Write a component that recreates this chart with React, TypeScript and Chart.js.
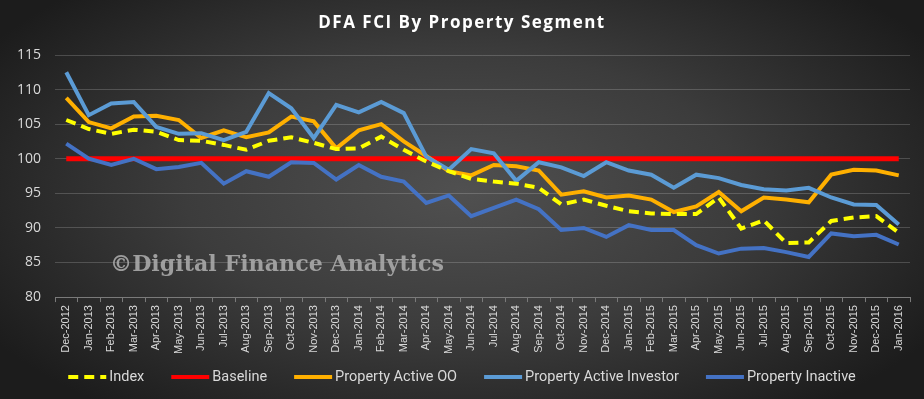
import React, { useEffect, useRef } from "react";
import { Chart, registerables } from "chart.js";

Chart.register(...registerables);

const categories = [
  "Dec-2012","Jan-2013","Feb-2013","Mar-2013","Apr-2013","May-2013","Jun-2013","Jul-2013","Aug-2013","Sep-2013","Oct-2013","Nov-2013",
  "Dec-2013","Jan-2014","Feb-2014","Mar-2014","Apr-2014","May-2014","Jun-2014","Jul-2014","Aug-2014","Sep-2014","Oct-2014","Nov-2014",
  "Dec-2014","Jan-2015","Feb-2015","Mar-2015","Apr-2015","May-2015","Jun-2015","Jul-2015","Aug-2015","Sep-2015","Oct-2015","Nov-2015",
  "Dec-2015","Jan-2016",
];

const indexValues = [
  105.6,104.3,103.6,104.2,103.9,102.7,102.6,102.0,101.3,102.6,103.1,102.3,
  101.4,101.5,103.2,101.3,99.6,98.2,97.1,96.7,96.4,95.8,93.4,94.1,
  93.2,92.4,92.1,92.0,92.0,94.4,89.9,91.1,87.8,87.9,91.0,91.5,
  91.7,89.3,
];

const baselineValues = categories.map(() => 100);

const activeOOValues = [
  108.8,105.3,104.4,106.1,106.2,105.6,103.0,104.1,103.1,103.8,106.1,105.4,
  101.5,104.1,105.0,102.5,100.4,98.2,97.6,99.1,98.9,98.3,94.8,95.3,
  94.4,94.7,94.1,92.3,93.1,95.2,92.4,94.4,94.1,93.7,97.7,98.4,
  98.3,97.6,
];

const activeInvestorValues = [
  112.5,106.3,108.0,108.2,104.6,103.6,103.7,102.7,103.9,109.5,107.3,103.0,
  107.8,106.7,108.2,106.6,100.3,98.4,101.4,100.8,96.8,99.5,98.75,97.5,
  99.5,98.3,97.7,95.8,97.7,97.2,96.2,95.6,95.4,95.8,94.4,93.4,
  93.3,90.5,
];

const inactiveValues = [
  102.2,100.0,99.1,100.0,98.5,98.8,99.4,96.4,98.2,97.4,99.5,99.4,
  97.0,99.1,97.4,96.7,93.6,94.7,91.7,92.9,94.1,92.7,89.7,90.0,
  88.7,90.4,89.7,89.7,87.5,86.3,87.0,87.1,86.5,85.8,89.2,88.8,
  89.0,87.6,
];

const yTicks = [80, 85, 90, 95, 100, 105, 110, 115];

const titleText = "DFA FCI By Property Segment";
const watermarkText = "©Digital Finance Analytics";

const watermarkPlugin = {
  id: "watermark",
  beforeDatasetsDraw(chart: any) {
    const ctx = chart.ctx;
    ctx.save();
    ctx.font = "bold 23px 'DejaVu Serif'";
    ctx.fillStyle = "rgba(170,170,170,0.9)";
    ctx.textBaseline = "middle";
    ctx.textAlign = "left";
    ctx.fillText(watermarkText, 110, 265, 334);
    ctx.restore();
  },
};

const titlePlugin = {
  id: "customTitle",
  afterDraw(chart: any) {
    const ctx = chart.ctx;
    ctx.save();
    ctx.font = "bold 17px 'Open Sans'";
    (ctx as any).letterSpacing = "1.5px";
    ctx.fillStyle = "#ffffff";
    ctx.textBaseline = "middle";
    ctx.textAlign = "center";
    ctx.fillText(titleText, 462, 23);
    ctx.restore();
  },
};

const legendPlugin = {
  id: "customLegend",
  afterDraw(chart: any) {
    const ctx = chart.ctx;
    const ds = chart.data.datasets;
    const markerW = 38;
    const markerGap = 3;
    const itemGap = 27;
    const y = 377;
    ctx.save();
    ctx.font = "14.5px Roboto";
    ctx.textBaseline = "middle";
    ctx.textAlign = "left";
    const widths = ds.map((d: any) => ctx.measureText(d.label).width);
    let total = 0;
    widths.forEach((w: number, i: number) => {
      total += markerW + markerGap + w + (i < ds.length - 1 ? itemGap : 0);
    });
    let x = 462 - total / 2;
    ds.forEach((d: any, i: number) => {
      ctx.save();
      ctx.strokeStyle = d.borderColor;
      ctx.lineWidth = 4;
      ctx.setLineDash(d.borderDash || []);
      ctx.beginPath();
      ctx.moveTo(x, y);
      ctx.lineTo(x + markerW, y);
      ctx.stroke();
      ctx.restore();
      ctx.fillStyle = "#d9d9d9";
      ctx.fillText(d.label, x + markerW + markerGap, y);
      x += markerW + markerGap + widths[i] + itemGap;
    });
    ctx.restore();
  },
};

export default function App() {
  const ref = useRef<HTMLCanvasElement>(null);

  useEffect(() => {
    document.body.style.margin = "0";
    const canvas = ref.current;
    if (!canvas) return;
    const chart = new Chart(canvas, {
      type: "line",
      data: {
        labels: categories,
        datasets: [
          {
            label: "Index",
            data: indexValues,
            borderColor: "#FFFF00",
            backgroundColor: "#FFFF00",
            borderWidth: 4,
            borderDash: [10, 6],
            pointRadius: 0,
            tension: 0,
            order: 0,
          },
          {
            label: "Baseline",
            data: baselineValues,
            borderColor: "#FF0000",
            backgroundColor: "#FF0000",
            borderWidth: 5,
            pointRadius: 0,
            order: 4,
          },
          {
            label: "Property Active OO",
            data: activeOOValues,
            borderColor: "#FFB000",
            backgroundColor: "#FFB000",
            borderWidth: 4,
            pointRadius: 0,
            order: 3,
          },
          {
            label: "Property Active Investor",
            data: activeInvestorValues,
            borderColor: "#5B9BD5",
            backgroundColor: "#5B9BD5",
            borderWidth: 4,
            pointRadius: 0,
            order: 2,
          },
          {
            label: "Property Inactive",
            data: inactiveValues,
            borderColor: "#4472C4",
            backgroundColor: "#4472C4",
            borderWidth: 4,
            pointRadius: 0,
            order: 1,
          },
        ],
      },
      options: {
        animation: false,
        responsive: false,
        maintainAspectRatio: false,
        layout: { padding: { left: 3, right: 14, top: 55, bottom: 42 } },
        plugins: {
          title: { display: false },
          legend: { display: false },
          tooltip: { enabled: false },
        },
        scales: {
          x: {
            offset: true,
            grid: {
              display: true,
              offset: true,
              drawOnChartArea: false,
              drawTicks: true,
              tickLength: 5,
              color: "#7a7a7a",
            },
            border: { display: true, color: "#7a7a7a" },
            ticks: {
              color: "#d9d9d9",
              font: { family: "'Liberation Sans'", size: 11 },
              maxRotation: 90,
              minRotation: 90,
              autoSkip: false,
              padding: 3,
            },
          },
          y: {
            min: 80,
            max: 115,
            afterBuildTicks(scale: any) {
              scale.ticks = yTicks.map((v) => ({ value: v }));
            },
            grid: { color: "rgba(255,255,255,0.18)", drawTicks: false, lineWidth: 1 },
            border: { display: false },
            ticks: {
              color: "#d9d9d9",
              font: { family: "'Open Sans'", size: 14 },
              padding: 14,
            },
          },
        },
      },
      plugins: [watermarkPlugin, titlePlugin, legendPlugin],
    });
    return () => chart.destroy();
  }, []);

  return (
    <div
      style={{
        width: 924,
        height: 399,
        background:
          "radial-gradient(ellipse 60% 70% at 50% 48%, #505050 0%, #3c3c3c 50%, #1c1c1c 100%)",
      }}
    >
      <canvas ref={ref} width={924} height={399} style={{ display: "block" }} />
    </div>
  );
}
